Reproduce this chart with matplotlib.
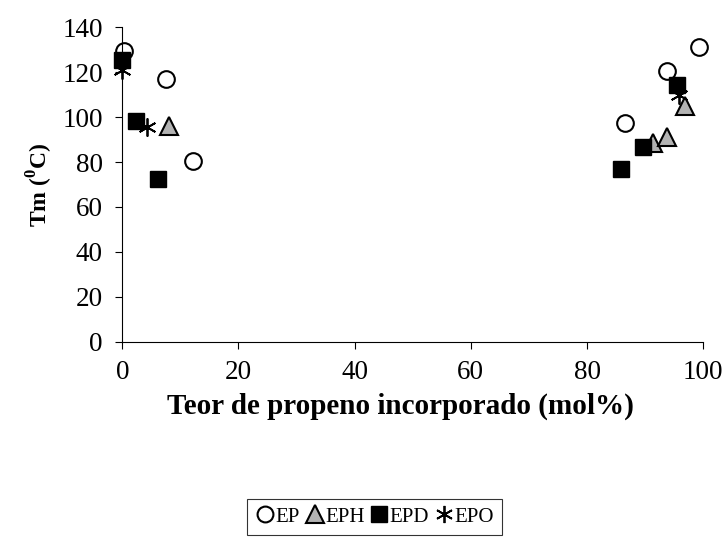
import matplotlib.pyplot as plt

plt.rcParams['font.family'] = ['Liberation Serif', 'DejaVu Serif']
plt.rcParams['mathtext.fontset'] = 'custom'
plt.rcParams['mathtext.rm'] = 'Liberation Serif'
plt.rcParams['mathtext.bf'] = 'Liberation Serif:bold'

# propene content (mol%) and melting temperature (C) for each copolymer series
ep_x = [0.3, 7.5, 12.1, 86.5, 93.8, 99.3]
ep_y = [129.5, 116.8, 80.6, 97.2, 120.6, 131.2]

eph_x = [8.0, 91.4, 93.8, 96.9]
eph_y = [96.1, 88.3, 91.0, 104.9]

epd_x = [0.0, 2.4, 6.2, 85.9, 89.7, 95.5]
epd_y = [125.3, 98.4, 72.4, 76.9, 86.8, 114.2]

epo_x = [0.0, 4.2, 95.8]
epo_y = [121.0, 95.7, 109.8]

fig = plt.figure(figsize=(7.28, 5.54), dpi=100)
ax = fig.add_axes([0.168, 0.383, 0.798, 0.568])

ax.plot(ep_x, ep_y, 'o', ms=12, mfc='white', mec='black', mew=1.5, label='EP', clip_on=False)
ax.plot(eph_x, eph_y, '^', ms=13, mfc='#b3b3b3', mec='black', mew=1.5, label='EPH', clip_on=False)
ax.plot(epd_x, epd_y, 's', ms=12, mfc='black', mec='black', mew=1, label='EPD', clip_on=False)
ax.plot(epo_x, epo_y, marker=(6, 2, 0), ls='none', ms=13, mec='black', mew=1.3, label='EPO', clip_on=False)

ax.set_xlim(0, 100)
ax.set_ylim(0, 140)
ax.set_xticks(range(0, 101, 20))
ax.set_yticks(range(0, 141, 20))
ax.spines['top'].set_visible(False)
ax.spines['right'].set_visible(False)
ax.tick_params(direction='out', length=5, labelsize=19.5)
ax.tick_params(axis='x', pad=8)
ax.tick_params(axis='y', pad=9)

ax.set_xlabel('Teor de propeno incorporado (mol%)', fontsize=21, fontweight='bold')
ax.xaxis.set_label_coords(0.478, -0.163)
ax.set_ylabel(r'Tm ($^{\mathbf{0}}$C)', fontsize=17, fontweight='bold', labelpad=5)

leg = fig.legend(loc='center', bbox_to_anchor=(0.514, 0.067), ncol=4, frameon=True,
                 fontsize=15, handletextpad=0.0, columnspacing=0.2, borderpad=0.4,
                 handlelength=1.0, fancybox=False, markerscale=0.95)
leg.get_frame().set_edgecolor('black')
leg.get_frame().set_linewidth(0.8)

fig.savefig('out.png', dpi=100)
